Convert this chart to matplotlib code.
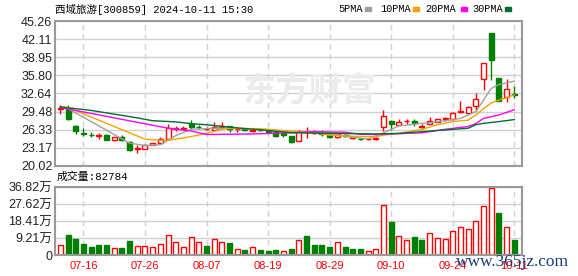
import matplotlib.pyplot as plt
from matplotlib.patches import Rectangle

plt.rcParams['font.family'] = ['Liberation Sans', 'Noto Sans CJK SC']

W, H = 578, 276

# trading-day index 0 = 2024-07-11
dates = ['07-16', '07-26', '08-07', '08-19', '08-29', '09-10', '09-24', '10-11']
date_pos = [3, 11, 19, 27, 35, 43, 51, 59]

opens = [30.00, 30.19, 27.06, 25.80, 25.50, 25.30, 25.50, 24.50, 25.00, 24.23,
         22.90, 23.05, 23.75, 24.10, 24.70, 26.50, 26.50, 27.30, 26.80, 26.50,
         26.30, 26.80, 26.95, 26.40, 26.40, 26.15, 26.35, 26.10, 25.95, 25.80,
         25.20, 24.30, 25.95, 25.85, 25.70, 25.47, 25.00, 25.35, 24.98, 24.75,
         24.68, 24.70, 26.77, 27.83, 27.24, 27.80, 27.86, 26.85, 27.28, 27.74,
         28.20, 28.15, 29.50, 29.31, 30.53, 35.23, 43.17, 35.28, 32.09, 32.55]
highs = [30.60, 30.66, 27.20, 26.60, 25.90, 25.80, 25.60, 25.10, 25.50, 24.30,
         23.60, 23.90, 24.10, 25.00, 27.35, 26.90, 26.90, 27.95, 27.10, 26.85,
         27.60, 27.60, 27.00, 26.70, 26.50, 26.40, 26.40, 26.20, 26.00, 26.00,
         25.30, 26.20, 26.88, 26.35, 26.35, 25.65, 25.70, 25.60, 25.20, 24.95,
         24.90, 25.05, 29.70, 27.95, 28.18, 28.20, 28.26, 27.30, 28.50, 28.20,
         28.60, 29.43, 31.30, 30.47, 32.79, 37.95, 43.17, 35.30, 35.10, 33.95]
lows = [29.00, 28.06, 25.60, 25.20, 25.00, 24.80, 24.50, 24.30, 24.40, 22.70,
        22.30, 22.95, 23.70, 24.00, 24.50, 26.10, 26.20, 26.50, 26.40, 26.20,
        26.20, 26.60, 25.90, 25.90, 26.10, 26.00, 26.10, 25.80, 25.00, 25.00,
        24.10, 24.30, 24.82, 25.65, 25.17, 24.90, 24.90, 25.10, 24.80, 24.55,
        24.50, 24.50, 26.06, 26.35, 27.12, 27.33, 26.90, 26.50, 27.28, 27.70,
        27.90, 28.10, 29.20, 29.20, 29.66, 33.26, 35.05, 31.30, 31.20, 31.90]
closes = [30.05, 28.24, 26.06, 25.60, 25.45, 25.40, 24.60, 25.00, 24.50, 22.87,
          23.10, 23.70, 24.05, 24.70, 26.60, 26.65, 26.70, 26.75, 26.78, 26.53,
          26.80, 26.90, 26.45, 26.47, 26.20, 26.25, 26.20, 25.90, 25.20, 25.40,
          24.20, 26.05, 26.00, 25.88, 25.60, 25.11, 25.60, 25.25, 25.00, 24.68,
          24.72, 24.85, 28.65, 27.36, 27.60, 27.90, 27.45, 26.90, 27.86, 28.20,
          28.30, 29.25, 29.60, 30.24, 31.63, 37.95, 38.53, 31.34, 33.37, 32.45]
# volume in 万手
volumes = [5.6, 10.9, 8.6, 5.8, 4.5, 5.3, 5.3, 3.9, 3.9, 7.5,
           5.1, 5.1, 4.5, 6.2, 10.7, 6.8, 4.5, 9.6, 6.8, 5.1,
           8.5, 7.3, 6.4, 3.4, 2.8, 4.5, 2.8, 2.3, 2.8, 2.3,
           3.4, 7.9, 10.2, 5.6, 5.6, 4.5, 6.8, 4.5, 3.4, 3.4,
           2.3, 3.4, 27.1, 18.0, 10.2, 7.9, 9.6, 7.9, 11.8, 9.0,
           8.5, 13.0, 15.2, 14.1, 18.6, 26.5, 36.1, 22.7, 15.2, 8.28]

# moving averages at their bends
ma5_x = [0, 1, 9, 11, 13, 15, 17, 20, 25, 29, 33, 35, 38, 40, 42, 44, 47, 49, 52, 54, 55, 56, 57, 59]
ma5_y = [30.3, 30.0, 24.0, 23.6, 23.7, 25.3, 26.4, 26.6, 26.5, 26.0, 25.9, 25.7, 25.0, 24.75, 25.8,
         27.0, 27.45, 27.7, 28.3, 29.5, 31.5, 33.5, 34.2, 34.8]
ma10_x = [0, 1, 11, 13, 14, 16, 18, 21, 22, 26, 29, 33, 35, 38, 41, 42, 44, 47, 49, 51, 53, 54, 55, 56, 57, 58, 59]
ma10_y = [30.4, 30.2, 24.7, 24.5, 24.5, 24.9, 25.4, 26.4, 26.6, 26.5, 26.2, 25.8, 25.4, 25.2, 25.1, 25.4,
          25.7, 26.4, 27.2, 27.75, 28.0, 28.9, 30.0, 31.0, 31.5, 31.9, 32.4]
ma20_x = [0, 14, 17, 19, 25, 30, 33, 37, 39, 41, 43, 47, 50, 53, 54, 55, 57, 59]
ma20_y = [30.2, 26.6, 26.1, 25.5, 25.6, 25.8, 26.0, 25.9, 25.55, 25.5, 25.6, 25.8, 26.4, 26.9, 27.4,
          28.3, 28.9, 29.8]
ma30_x = [0, 4, 10, 12, 15, 17, 19, 23, 27, 30, 41, 44, 50, 53, 54, 55, 57, 59]
ma30_y = [30.3, 29.7, 28.4, 27.9, 27.7, 27.4, 27.2, 26.65, 26.2, 25.8, 25.6, 25.7, 26.3, 26.6, 27.2,
          27.45, 27.75, 28.1]

price_ticks = [20.02, 23.17, 26.33, 29.48, 32.64, 35.80, 38.95, 42.11, 45.26]
vol_ticks = [0, 9.21, 18.41, 27.62, 36.82]
vol_labels = ['0', '9.21万', '18.41万', '27.62万', '36.82万']

RED = '#ff0000'
GREEN = '#008000'
GRID = '#d0d0d0'
FRAME = '#999999'


def box(x0, y0, x1, y1):
    return [x0 / W, 1 - y1 / H, (x1 - x0) / W, (y1 - y0) / H]


fig = plt.figure(figsize=(W / 100, H / 100), dpi=100)

# faint site watermark behind the price panel
fig.text(309 / W, 1 - 92 / H, '东方财富', fontsize=24, fontweight='bold',
         family=['Noto Sans CJK SC'], color='#ebebee', ha='center', va='center', zorder=0)

ax = fig.add_axes(box(55, 21, 522, 166))
axv = fig.add_axes(box(55, 187, 522, 255))
ax.patch.set_alpha(0)

n = len(closes)
for a in (ax, axv):
    a.set_xlim(-0.69, n)
    for s in a.spines.values():
        s.set_color(FRAME)
        s.set_linewidth(1.5)
        s.set_zorder(10)
    for d in date_pos:
        a.axvline(d, color=GRID, lw=1, ls=(0, (4, 3)), zorder=1)
    a.tick_params(length=0, labelsize=9, labelcolor='#222222', pad=2)

# price panel
ax.set_ylim(price_ticks[0], price_ticks[-1])
ax.set_yticks(price_ticks)
ax.set_yticklabels([f'{v:.2f}' for v in price_ticks])
ax.set_xticks([])
for v in price_ticks:
    ax.axhline(v, color=GRID, lw=1, zorder=1)

bw = 0.65
for i in range(n):
    up = closes[i] >= opens[i]
    col = RED if up else GREEN
    ax.vlines(i, lows[i], highs[i], color=col, lw=1, zorder=3)
    lo, hi = min(opens[i], closes[i]), max(opens[i], closes[i])
    ax.add_patch(Rectangle((i - bw / 2, lo), bw, max(hi - lo, 0.02),
                           facecolor='white' if up else col, edgecolor=col, lw=1, zorder=4))

ax.plot(ma5_x, ma5_y, color='#a0a0a0', lw=1, zorder=5)
ax.plot(ma10_x, ma10_y, color='#f5a300', lw=1, zorder=5)
ax.plot(ma20_x, ma20_y, color='#ff00ff', lw=1, zorder=5)
ax.plot(ma30_x, ma30_y, color='#006f2e', lw=1, zorder=5)

# volume panel
axv.set_ylim(vol_ticks[0], vol_ticks[-1])
axv.set_yticks(vol_ticks)
axv.set_yticklabels(vol_labels)
for v in vol_ticks:
    axv.axhline(v, color=GRID, lw=1, zorder=1)
axv.set_xticks(date_pos)
axv.set_xticklabels(dates, fontsize=8, color=RED)
axv.tick_params(axis='x', labelcolor=RED, pad=4)
for i in range(n):
    prev = closes[i - 1] if i > 0 else opens[i]
    up = closes[i] >= prev
    col = RED if up else GREEN
    axv.add_patch(Rectangle((i - bw / 2, 0), bw, volumes[i],
                            facecolor='white' if up else col, edgecolor=col, lw=1, zorder=4))

mono = ['Liberation Mono', 'Noto Sans CJK SC']
fig.text(55 / W, 1 - 9 / H, '西域旅游[300859] 2024-10-11 15:30', family=mono,
         fontsize=7.6, va='center', ha='left', color='black')
fig.text(57 / W, 1 - 177 / H, '成交量:82784', family=mono,
         fontsize=7.8, va='center', ha='left', color='black')

legend = [('5PMA', 338, 365, '#a0a0a0'), ('10PMA', 380, 413, '#f5a300'),
          ('20PMA', 425, 461, '#ff00ff'), ('30PMA', 472, 505, '#006f2e')]
for name, tx, mx, col in legend:
    fig.text(tx / W, 1 - 9 / H, name, family=mono, fontsize=7.4, va='center', ha='left')
    fig.patches.append(Rectangle((mx / W, 1 - 10.5 / H), 6 / W, 3 / H, color=col,
                                 transform=fig.transFigure, figure=fig))

fig.text(456 / W, 1 - 262 / H, 'www.365jz.com', family=['Liberation Serif'], fontsize=12.5,
         color='#1b3b78', va='center', ha='left', zorder=20)

fig.savefig('out.png', dpi=100)
